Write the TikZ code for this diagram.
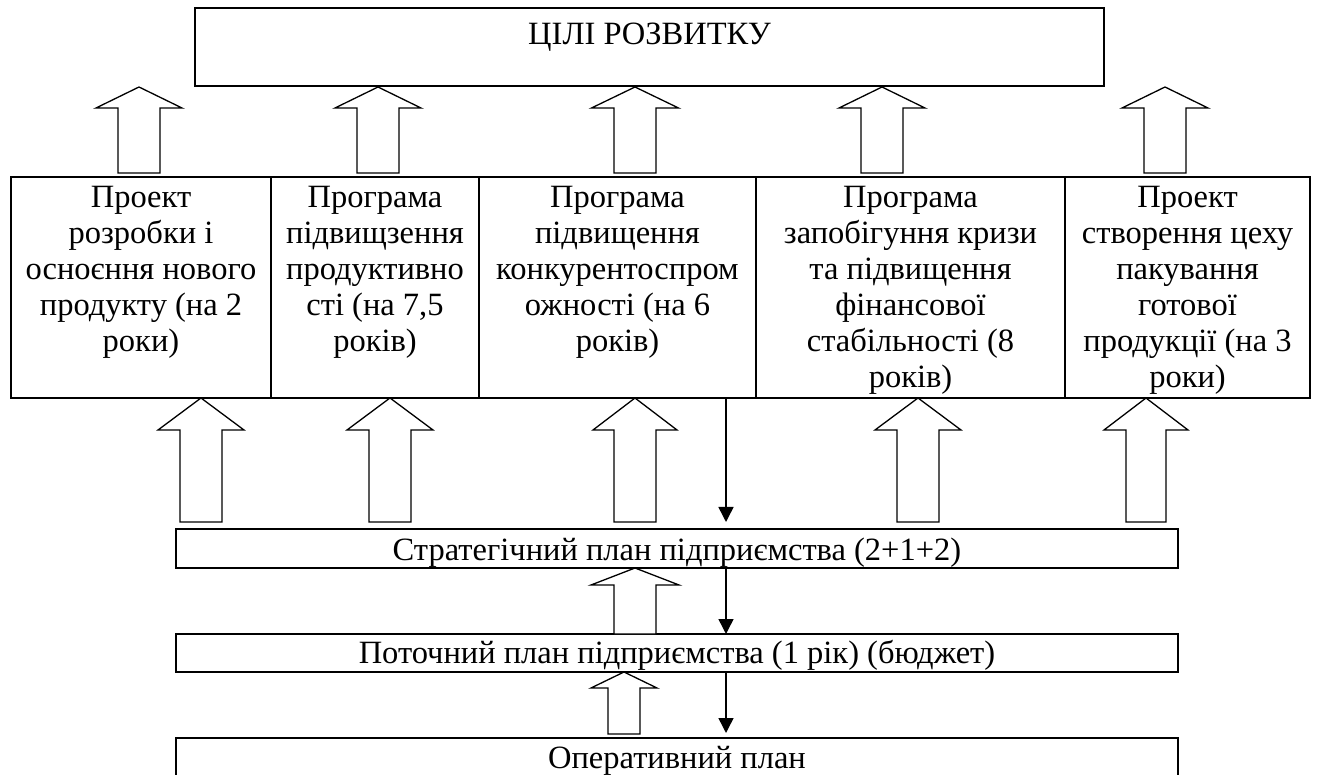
\documentclass[tikz,border=0pt]{standalone}
\usepackage{fontspec}
\setmainfont{Liberation Serif}
\usetikzlibrary{arrows.meta}
\tikzset{
  frame/.style={draw, line width=2pt, inner sep=0pt, outer sep=0pt},
  lbl/.style={inner sep=0pt, outer sep=0pt, font=\fontsize{32.5}{36}\selectfont},
  celltext/.style={lbl, align=center, anchor=north},
  blockarr/.style={draw, fill=white, line width=1.3pt, line join=miter},
  thinarr/.style={line width=1.5pt, -{Triangle[width=15pt,length=15pt]}}
}
% \barrow{x}{y tip}{y base}{head half width}{shaft half width}{head height}
\newcommand\barrow[6]{%
  \draw[blockarr] (#1,#2) -- (#1+#4,#2+#6) -- (#1+#5,#2+#6) -- (#1+#5,#3)
    -- (#1-#5,#3) -- (#1-#5,#2+#6) -- (#1-#4,#2+#6) -- cycle;}
\begin{document}
\begin{tikzpicture}[x=1pt,y=-1pt]
\useasboundingbox (0,0) rectangle (1318,775);
\clip (0,0) rectangle (1318,775);
\fill[white] (0,0) rectangle (1318,775);

% top box
\node[frame, minimum width=909pt, minimum height=78pt] (goal) at (649.5,47) {};
\node[lbl, anchor=base] (goalt) at (649.5,44.5) {ЦІЛІ РОЗВИТКУ};

% row of cells
\node[frame, minimum width=260pt, minimum height=221pt] (c1) at (141,287.5) {};
\node[frame, minimum width=208pt, minimum height=221pt] (c2) at (375,287.5) {};
\node[frame, minimum width=277pt, minimum height=221pt] (c3) at (617.5,287.5) {};
\node[frame, minimum width=309pt, minimum height=221pt] (c4) at (910.5,287.5) {};
\node[frame, minimum width=245pt, minimum height=221pt] (c5) at (1187.5,287.5) {};

\node[celltext] (t1) at (141,186.5) {Проект\\розробки і\\осноєння нового\\продукту (на 2\\роки)};
\node[celltext] (t2) at (375,186.5) {Програма\\підвищзення\\продуктивно\\сті (на 7,5\\років)};
\node[celltext] (t3) at (617.5,186.5) {Програма\\підвищення\\конкурентоспром\\ожності (на 6\\років)};
\node[celltext] (t4) at (910.5,186.5) {Програма\\запобігуння кризи\\та підвищення\\фінансової\\стабільності (8\\років)};
\node[celltext] (t5) at (1187.5,186.5) {Проект\\створення цеху\\пакування\\готової\\продукції (на 3\\роки)};

% plan boxes
\node[frame, minimum width=1002pt, minimum height=39pt] (strat) at (677,548.5) {};
\node[lbl, anchor=base] (stratt) at (677,560) {Стратегічний план підприємства (2+1+2)};
\node[frame, minimum width=1002pt, minimum height=38pt] (cur) at (677,653) {};
\node[lbl, anchor=base] (curt) at (677,663) {Поточний план підприємства (1 рік) (бюджет)};
\node[frame, minimum width=1002pt, minimum height=72pt] (oper) at (677,774) {};
\node[lbl, anchor=base] (opert) at (677,768) {Оперативний план};

% block arrows: cells -> goals
\barrow{139}{87}{173}{43}{21}{21}
\barrow{378}{87}{173}{43}{21}{21}
\barrow{635}{87}{173}{43.5}{21}{21}
\barrow{882}{87}{173}{43}{21}{21}
\barrow{1165}{87}{173}{43}{21}{21}

% block arrows: strategic plan -> cells
\barrow{201}{398}{522}{43}{21}{32}
\barrow{390}{398}{522}{43}{21}{32}
\barrow{635}{398}{522}{42}{21}{32}
\barrow{918}{398}{522}{43}{21}{32}
\barrow{1146}{398}{522}{42}{20}{32}

% block arrows between plans
\barrow{635}{568}{634}{44}{21}{17}
\barrow{624}{672}{734}{33}{16}{16}

% thin arrows
\coordinate (e1) at (726,522);
\coordinate (e3) at (726,733);
\draw[thinarr] (c3.south -| e1) -- (e1);
\draw[thinarr] (strat.south -| e1) -- (cur.north -| e1);
\draw[thinarr] (cur.south -| e1) -- (e3);
\end{tikzpicture}
\end{document}
